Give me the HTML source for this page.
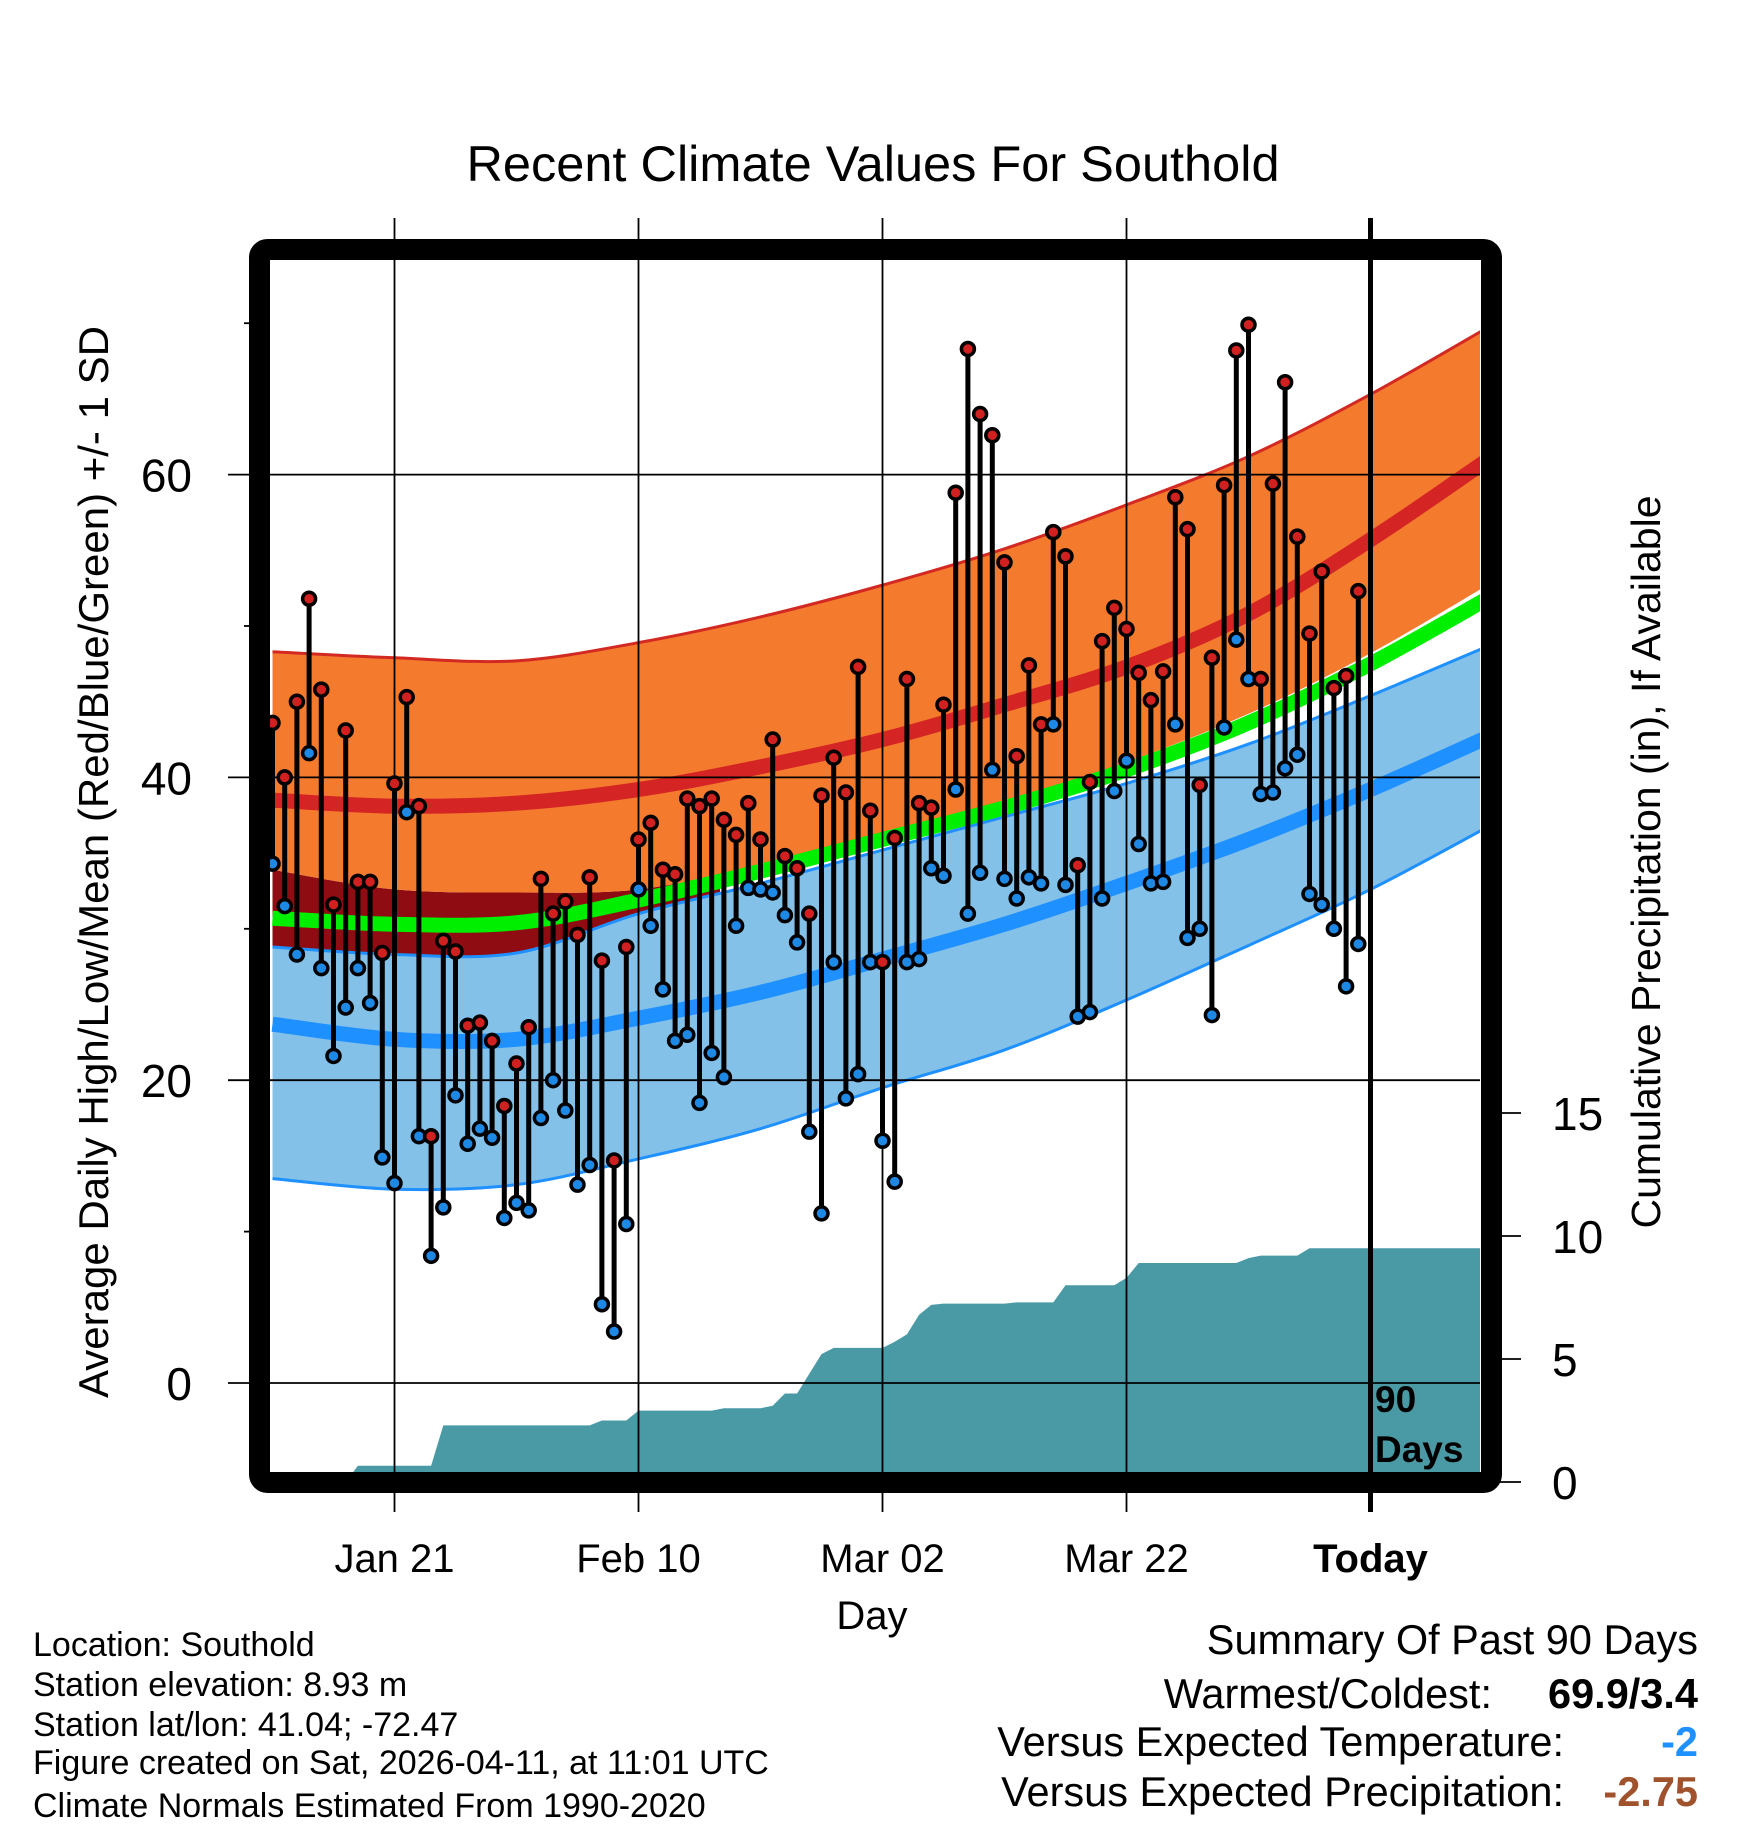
<!DOCTYPE html>
<html><head><meta charset="utf-8"><style>
html,body{margin:0;padding:0;background:#fff;}
body{width:1748px;height:1828px;overflow:hidden;font-family:"Liberation Sans",sans-serif;}
svg text{font-family:"Liberation Sans",sans-serif;}
</style></head><body>
<svg id="chart" width="1748" height="1828" viewBox="0 0 1748 1828" xmlns="http://www.w3.org/2000/svg">
<defs><clipPath id="plotclip"><rect x="270" y="260" width="1210" height="1212"/></clipPath>
<clipPath id="leftclip"><rect x="270" y="260" width="450" height="1212"/></clipPath></defs>
<g id="bands" clip-path="url(#plotclip)"></g>
<g id="precip" clip-path="url(#plotclip)"></g>
<g id="grid"></g>
<g id="marks"></g>
<rect x="259.5" y="249.5" width="1232" height="1233" rx="8" fill="none" stroke="#000" stroke-width="21"/>
<g id="labels"></g>
<text x="873" y="181" font-size="50.5" text-anchor="middle">Recent Climate Values For Southold</text>
<text x="872" y="1629" font-size="40" text-anchor="middle">Day</text>
<text transform="translate(108,862) rotate(-90)" font-size="42" text-anchor="middle">Average Daily High/Low/Mean (Red/Blue/Green) +/- 1 SD</text>
<text transform="translate(1660,862) rotate(-90)" font-size="41" text-anchor="middle">Cumulative Precipitation (in), If Available</text>
<text x="1375" y="1412" font-size="37" font-weight="bold">90</text>
<text x="1375" y="1462" font-size="37" font-weight="bold">Days</text>
<g font-size="34">
<text x="33" y="1656">Location: Southold</text>
<text x="33" y="1696">Station elevation: 8.93 m</text>
<text x="33" y="1736">Station lat/lon: 41.04; -72.47</text>
<text x="33" y="1774">Figure created on Sat, 2026-04-11, at 11:01 UTC</text>
<text x="33" y="1817">Climate Normals Estimated From 1990-2020</text>
</g>
<g font-size="41.5">
<text x="1698" y="1654" text-anchor="end">Summary Of Past 90 Days</text>
<text x="1492" y="1708" text-anchor="end">Warmest/Coldest:</text>
<text x="1698" y="1708" text-anchor="end" font-weight="bold">69.9/3.4</text>
<text x="1564" y="1756" text-anchor="end">Versus Expected Temperature:</text>
<text x="1698" y="1756" text-anchor="end" font-weight="bold" fill="#1e90ff">-2</text>
<text x="1564" y="1806" text-anchor="end">Versus Expected Precipitation:</text>
<text x="1698" y="1806" text-anchor="end" font-weight="bold" fill="#a0522d">-2.75</text>
</g>
</svg>
<script>
const highs=[43.6,40,45,51.8,45.8,31.6,43.1,33.1,33.1,28.4,39.6,45.3,38.1,16.3,29.2,28.5,23.6,23.8,22.6,18.3,21.1,23.5,33.3,31,31.8,29.6,33.4,27.9,14.7,28.8,35.9,37,33.9,33.6,38.6,38.1,38.6,37.2,36.2,38.3,35.9,42.5,34.8,34,31,38.8,41.3,39,47.3,37.8,27.8,36,46.5,38.3,38,44.8,58.8,68.3,64,62.6,54.2,41.4,47.4,43.5,56.2,54.6,34.2,39.7,49,51.2,49.8,46.9,45.1,47,58.5,56.4,39.5,47.9,59.3,68.2,69.9,46.5,59.4,66.1,55.9,49.5,53.6,45.9,46.7,52.3];
const lows=[34.3,31.5,28.3,41.6,27.4,21.6,24.8,27.4,25.1,14.9,13.2,37.7,16.3,8.4,11.6,19,15.8,16.8,16.2,10.9,11.9,11.4,17.5,20,18,13.1,14.4,5.2,3.4,10.5,32.6,30.2,26,22.6,23,18.5,21.8,20.2,30.2,32.7,32.6,32.4,30.9,29.1,16.6,11.2,27.8,18.8,20.4,27.8,16,13.3,27.8,28,34,33.5,39.2,31,33.7,40.5,33.3,32,33.4,33,43.5,32.9,24.2,24.5,32,39.1,41.1,35.6,33,33.1,43.5,29.4,30,24.3,43.3,49.1,46.5,38.9,39,40.6,41.5,32.3,31.6,30,26.2,29];
const precip=[0,0,0,0,0,0,0,0.66,0.66,0.66,0.66,0.66,0.66,0.66,2.3,2.3,2.3,2.3,2.3,2.3,2.3,2.3,2.3,2.3,2.3,2.3,2.3,2.5,2.5,2.5,2.9,2.9,2.9,2.9,2.9,2.9,2.9,3.0,3.0,3.0,3.0,3.1,3.6,3.6,4.4,5.2,5.45,5.45,5.45,5.45,5.45,5.7,6.0,6.8,7.2,7.25,7.25,7.25,7.25,7.25,7.25,7.3,7.3,7.3,7.3,8.0,8.0,8.0,8.0,8.0,8.3,8.9,8.9,8.9,8.9,8.9,8.9,8.9,8.9,8.9,9.1,9.2,9.2,9.2,9.2,9.5,9.5,9.5,9.5,9.5];
const knotDays=[0,10,20,30,40,50,60,70,80,90,100];
const highUpper=[48.3,47.9,47.7,48.9,50.6,52.7,55.1,58.0,61.2,65.3,69.9];
const highMean=[38.5,38.1,38.3,39.2,40.7,42.5,44.8,47.3,50.8,55.7,61.2];
const highLower=[33.9,32.6,32.4,32.6,34.2,36.1,38.3,41.0,44.2,48.2,52.9];
const avgMean=[30.7,30.3,30.4,31.9,33.8,35.9,38.0,40.5,43.6,47.5,52.0];
const lowUpper=[28.8,28.3,28.4,31.0,33.0,35.2,37.4,39.6,42.2,45.4,48.8];
const lowMean=[23.7,22.7,22.7,24.1,25.8,28.0,30.3,33.0,35.9,39.2,42.8];
const lowLower=[13.5,12.8,13.1,14.8,16.8,19.5,22.0,25.3,28.9,32.6,36.9];
const yTicks=[0,20,40,60];
const yMinor=[10,30,50,70];
const pTicks=[0,5,10,15];
const xTickDays=[10,30,50,70,90];
const xTickLabels=["Jan 21","Feb 10","Mar 02","Mar 22","Today"];

const NS="http://www.w3.org/2000/svg";
const X=d=>272.5+12.2*d;
const Y=v=>1383-15.14*v;
const P=p=>1482-24.6*p;
function mk(tag,attrs,parent){const e=document.createElementNS(NS,tag);for(const k in attrs)e.setAttribute(k,attrs[k]);parent.appendChild(e);return e;}
function pts(arr){const o=[];for(let i=0;i<knotDays.length;i++)o.push([X(knotDays[i]),Y(arr[i])]);return o;}
function spline(p){let d="";for(let i=0;i<p.length-1;i++){const p0=p[Math.max(0,i-1)],p1=p[i],p2=p[i+1],p3=p[Math.min(p.length-1,i+2)];
const c1=[p1[0]+(p2[0]-p0[0])/6,p1[1]+(p2[1]-p0[1])/6],c2=[p2[0]-(p3[0]-p1[0])/6,p2[1]-(p3[1]-p1[1])/6];
if(i===0)d+="M"+p1[0]+","+p1[1];d+=" C"+c1[0]+","+c1[1]+" "+c2[0]+","+c2[1]+" "+p2[0]+","+p2[1];}return d;}
function revSpline(p){const r=p.slice().reverse();return spline(r).replace(/^M/," L");}
const B=document.getElementById("bands");
function band(top,bot,fill,name,clip){const e=mk("path",{d:spline(pts(top))+revSpline(pts(bot))+" Z",fill:fill},B);


if(clip)e.setAttribute("clip-path","url(#leftclip)");}
function line(arr,color,w,name){const e=mk("path",{d:spline(pts(arr)),fill:"none",stroke:color,"stroke-width":w},B);

}
band(highLower,lowUpper,"#8e0c12","darkred-overlap-band",true);
band(highUpper,highLower,"#f47a2e","high-sd-band");
mk("path",{d:spline(pts(highUpper)),fill:"none",stroke:"#d22a22","stroke-width":3},B);
band(lowUpper,lowLower,"#84c1e8","low-sd-band");
mk("path",{d:spline(pts(lowUpper)),fill:"none",stroke:"#1e90ff","stroke-width":3},B);
mk("path",{d:spline(pts(lowLower)),fill:"none",stroke:"#1e90ff","stroke-width":3},B);
line(highMean,"#d42424",15,"mean-high-line");
line(lowMean,"#1e90ff",15,"mean-low-line");
line(avgMean,"#00ee00",15,"mean-avg-line");

(function(){let d="M"+X(0)+","+P(0);for(let i=0;i<precip.length;i++){d+=" L"+X(i)+","+P(precip[i]);}
d+=" L1485,"+P(precip[precip.length-1])+" L1485,1485 L"+X(0)+",1485 Z";
const e=mk("path",{d:d,fill:"#4a9aa5"},document.getElementById("precip"));

})();

const g=document.getElementById("grid"),lab=document.getElementById("labels");
yTicks.forEach(v=>{mk("line",{x1:228,x2:1480,y1:Y(v),y2:Y(v),stroke:"#000","stroke-width":1.8},g);
const t=mk("text",{x:192,y:Y(v)+17,"font-size":46,"text-anchor":"end"},lab);t.textContent=v;

});
yMinor.forEach(v=>{mk("line",{x1:244,x2:260,y1:Y(v),y2:Y(v),stroke:"#000","stroke-width":1.8},g);});
pTicks.forEach(p=>{mk("line",{x1:1491,x2:1521,y1:P(p),y2:P(p),stroke:"#000","stroke-width":1.8},g);
const t=mk("text",{x:1552,y:P(p)+17,"font-size":46},lab);t.textContent=p;

});
xTickDays.forEach((d,i)=>{const today=i===xTickDays.length-1;
mk("line",{x1:X(d),x2:X(d),y1:218,y2:1512,stroke:"#000","stroke-width":today?5:1.8},today?document.getElementById("marks"):g);
const t=mk("text",{x:X(d),y:1572,"font-size":40,"text-anchor":"middle","font-weight":today?"bold":"normal"},lab);t.textContent=xTickLabels[i];

});

const m=document.getElementById("marks");
for(let i=0;i<highs.length;i++){const x=X(i);
const s=mk("line",{x1:x,x2:x,y1:Y(highs[i]),y2:Y(lows[i]),stroke:"#000","stroke-width":5},m);


const h=mk("circle",{cx:x,cy:Y(highs[i]),r:6.5,fill:"#d02020",stroke:"#000","stroke-width":3.5},m);


const l=mk("circle",{cx:x,cy:Y(lows[i]),r:6.5,fill:"#1e88e5",stroke:"#000","stroke-width":3.5},m);

}
</script>
</body></html>
